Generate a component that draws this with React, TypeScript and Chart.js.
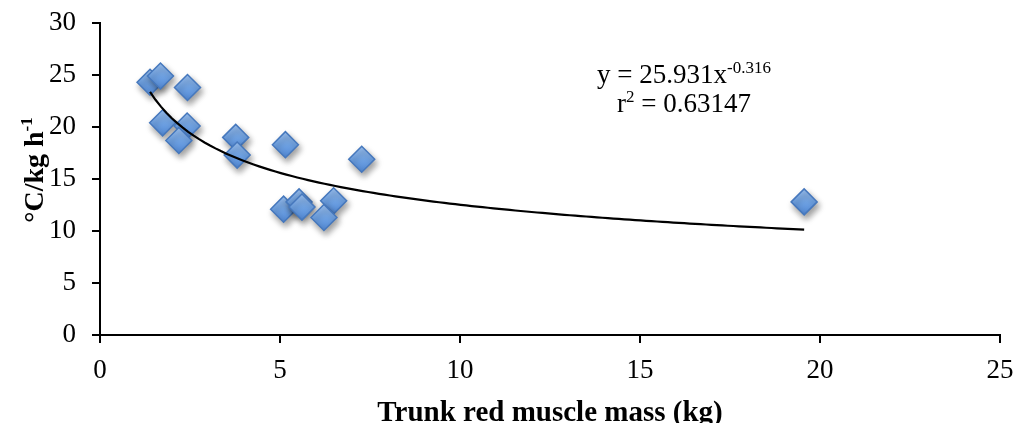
import { useEffect, useRef } from "react";
import { Chart, registerables } from "chart.js";

Chart.register(...registerables);

// Trunk red muscle mass (kg) and the matching rate (°C/kg h⁻¹) for each fish
const massKg = [1.39, 1.68, 2.43, 1.74, 2.42, 2.19, 3.77, 3.81, 5.15, 7.27, 5.1, 5.53, 5.61, 6.49, 6.22, 19.56];
const ratePerKg = [24.3, 24.9, 23.8, 20.4, 20.1, 18.7, 19.0, 17.3, 18.3, 16.9, 12.1, 12.8, 12.3, 12.9, 11.3, 12.8];

// Power-law fit y = a·x^b reported on the chart
const fitCoef = 25.931;
const fitExp = -0.316;
const fitCoefLabel = "25.931";
const fitExpLabel = "-0.316";
const fitR2Label = "0.63147";

const xTicks = [0, 5, 10, 15, 20, 25];
const yTicks = [0, 5, 10, 15, 20, 25, 30];

const xTitle = "Trunk red muscle mass (kg)";
const yTitleMain = "°C/kg h";
const yTitleSup = "-1";

const SERIF = "'Liberation Serif', 'Times New Roman', serif";

type Part = { text: string; sup?: boolean };

function drawRich(
  ctx: CanvasRenderingContext2D,
  parts: Part[],
  centerX: number,
  baseline: number,
  mainFont: string,
  supFont: string,
  raise: number
) {
  let total = 0;
  const widths = parts.map((p) => {
    ctx.font = p.sup ? supFont : mainFont;
    const w = ctx.measureText(p.text).width;
    total += w;
    return w;
  });
  let x = centerX - total / 2;
  ctx.textAlign = "left";
  ctx.textBaseline = "alphabetic";
  parts.forEach((p, i) => {
    ctx.font = p.sup ? supFont : mainFont;
    ctx.fillText(p.text, x, p.sup ? baseline - raise : baseline);
    x += widths[i];
  });
}

const annotations = {
  id: "fitAnnotations",
  afterDraw(chart: Chart) {
    const ctx = chart.ctx;
    ctx.save();
    ctx.fillStyle = "#000";
    // equation of the fitted curve
    drawRich(
      ctx,
      [{ text: `y = ${fitCoefLabel}x` }, { text: fitExpLabel, sup: true }],
      684,
      83,
      `27px ${SERIF}`,
      `17px ${SERIF}`,
      10
    );
    drawRich(
      ctx,
      [{ text: "r" }, { text: "2", sup: true }, { text: ` = ${fitR2Label}` }],
      684,
      112,
      `27px ${SERIF}`,
      `17px ${SERIF}`,
      10
    );
    ctx.restore();

    // rotated y-axis title with superscript
    ctx.save();
    ctx.fillStyle = "#000";
    ctx.translate(43, 170);
    ctx.rotate(-Math.PI / 2);
    drawRich(
      ctx,
      [{ text: yTitleMain }, { text: yTitleSup, sup: true }],
      0,
      0,
      `bold 28px ${SERIF}`,
      `bold 17px ${SERIF}`,
      11
    );
    ctx.restore();
  },
};

const markerShadow = {
  id: "markerShadow",
  beforeDatasetDraw(chart: Chart, args: { index: number }) {
    if (args.index !== 1) return;
    const ctx = chart.ctx;
    ctx.save();
    ctx.shadowColor = "rgba(0,0,0,0.38)";
    ctx.shadowBlur = 6;
    ctx.shadowOffsetX = 2;
    ctx.shadowOffsetY = 4;
  },
  afterDatasetDraw(chart: Chart, args: { index: number }) {
    if (args.index !== 1) return;
    chart.ctx.restore();
  },
};

export default function App() {
  const canvasRef = useRef<HTMLCanvasElement | null>(null);

  useEffect(() => {
    const canvas = canvasRef.current;
    if (!canvas) return;

    const points = massKg.map((x, i) => ({ x, y: ratePerKg[i] }));

    // fitted curve sampled across the measured mass range
    const xMin = Math.min(...massKg);
    const xMax = Math.max(...massKg);
    const steps = 120;
    const curve = Array.from({ length: steps + 1 }, (_, i) => {
      const x = xMin + ((xMax - xMin) * i) / steps;
      return { x, y: fitCoef * Math.pow(x, fitExp) };
    });

    const diamondFill = (c: any) => {
      const solid = "#6a9ee0";
      if (c.type !== "data" || !c.parsed) return solid;
      const chart = c.chart as Chart;
      const xs = chart.scales.x;
      const ys = chart.scales.y;
      if (!xs || !ys) return solid;
      const py = ys.getPixelForValue(c.parsed.y);
      const px = xs.getPixelForValue(c.parsed.x);
      if (!Number.isFinite(px) || !Number.isFinite(py)) return solid;
      const g = chart.ctx.createLinearGradient(px, py - 13, px, py + 13);
      g.addColorStop(0, "#9ac0f0");
      g.addColorStop(0.5, "#70a3e4");
      g.addColorStop(1, "#5289d6");
      return g;
    };

    const chart = new Chart(canvas, {
      type: "scatter",
      data: {
        datasets: [
          {
            label: "Power fit",
            data: curve,
            showLine: true,
            borderColor: "#000",
            borderWidth: 2.2,
            pointRadius: 0,
            order: 0,
          },
          {
            label: "Fish",
            data: points,
            pointStyle: "rectRot",
            pointRadius: 13,
            pointBackgroundColor: diamondFill,
            pointBorderColor: "#4678bd",
            pointBorderWidth: 1.5,
            order: 1,
          },
        ],
      },
      options: {
        animation: false,
        responsive: false,
        layout: { padding: { top: 23, right: 15, left: 0, bottom: 0 } },
        plugins: {
          legend: { display: false },
          tooltip: { enabled: false },
        },
        scales: {
          x: {
            type: "linear",
            min: 0,
            max: 25,
            afterBuildTicks: (s: any) => {
              s.ticks = xTicks.map((value) => ({ value }));
            },
            afterFit: (s: any) => {
              s.height = 88;
              s.paddingLeft = 0;
              s.paddingRight = 0;
            },
            ticks: {
              color: "#000",
              padding: 12,
              font: { family: SERIF, size: 27 },
            },
            grid: {
              drawOnChartArea: false,
              drawTicks: true,
              tickLength: 8,
              color: "#000",
              lineWidth: 2,
            },
            border: { display: true, color: "#000", width: 2 },
            title: {
              display: true,
              text: xTitle,
              color: "#000",
              padding: 0,
              font: { family: SERIF, size: 29, weight: "bold", lineHeight: 0.62 },
            },
          },
          y: {
            type: "linear",
            min: 0,
            max: 30,
            afterBuildTicks: (s: any) => {
              s.ticks = yTicks.map((value) => ({ value }));
            },
            afterFit: (s: any) => {
              s.width = 100;
              s.paddingTop = 0;
              s.paddingBottom = 0;
            },
            ticks: {
              color: "#000",
              padding: 16,
              font: { family: SERIF, size: 27 },
            },
            grid: {
              drawOnChartArea: false,
              drawTicks: true,
              tickLength: 8,
              color: "#000",
              lineWidth: 2,
            },
            border: { display: true, color: "#000", width: 2 },
          },
        },
      },
      plugins: [markerShadow, annotations],
    });

    return () => chart.destroy();
  }, []);

  return (
    <div style={{ position: "absolute", left: 0, top: 0, width: 1015, height: 423, background: "#fff" }}>
      <canvas ref={canvasRef} width={1015} height={423} style={{ display: "block" }} />
    </div>
  );
}
